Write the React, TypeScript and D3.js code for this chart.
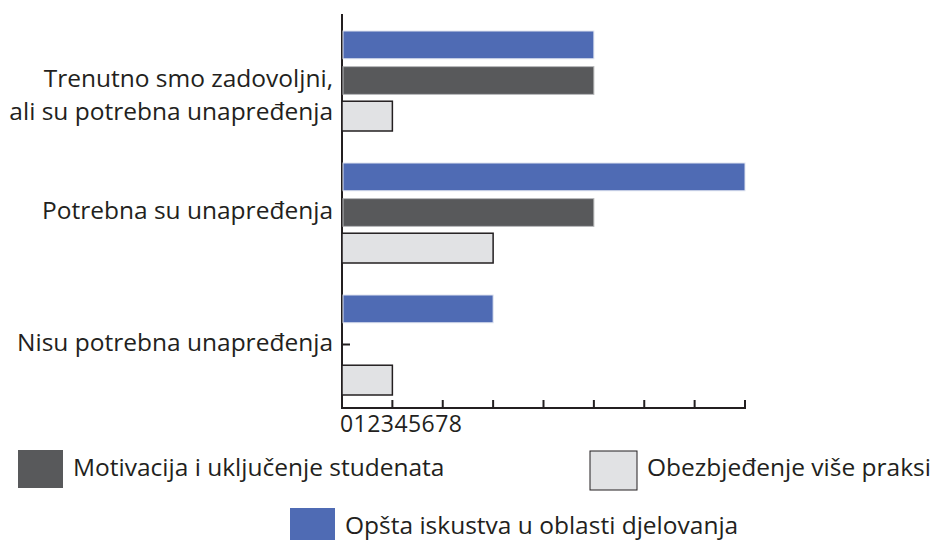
import React, { useEffect, useRef } from 'react';
import * as d3 from 'd3';

// kategorije (odozgo prema dolje) i serije
const categories = [
  ['Trenutno smo zadovoljni,', 'ali su potrebna unapređenja'],
  ['Potrebna su unapređenja'],
  ['Nisu potrebna unapređenja'],
];
const seriesNames = [
  'Opšta iskustva u oblasti djelovanja',
  'Motivacija i uključenje studenata',
  'Obezbjeđenje više praksi',
];
const opstaValues = [5, 8, 3];
const motivacijaValues = [5, 5, 0];
const prakseValues = [1, 3, 1];
const tickValues = [0, 1, 2, 3, 4, 5, 6, 7, 8];

const colors = ['#4f6bb4', '#58595b', '#e1e2e4'];
const strokes = ['#dfe4f0', '#b8b9bb', '#231f20'];

const App = () => {
  const ref = useRef<SVGSVGElement>(null);

  useEffect(() => {
    const svg = d3.select(ref.current);
    svg.selectAll('*').remove();
    const font = '"Open Sans", sans-serif';

    const x = d3.scaleLinear().domain([0, 8]).range([342, 745]);
    const y0 = d3.scaleBand<number>().domain([0, 1, 2]).range([14, 410]);
    const y1 = d3.scaleBand<number>().domain([0, 1, 2]).range([17, 116]).paddingInner(0.22);

    const values = [opstaValues, motivacijaValues, prakseValues];

    // osa Y
    svg.append('line')
      .attr('x1', x(0)).attr('x2', x(0))
      .attr('y1', 14).attr('y2', 409)
      .attr('stroke', '#231f20').attr('stroke-width', 2);

    // osa X
    svg.append('line')
      .attr('x1', x(0) - 1).attr('x2', x(8) + 1)
      .attr('y1', 408).attr('y2', 408)
      .attr('stroke', '#231f20').attr('stroke-width', 2);
    svg.append('g').selectAll('line')
      .data(tickValues)
      .enter().append('line')
      .attr('x1', d => x(d)).attr('x2', d => x(d))
      .attr('y1', 400).attr('y2', 408)
      .attr('stroke', '#231f20').attr('stroke-width', 2);

    // oznake (zbijene jedna uz drugu kao u originalu)
    svg.append('g').selectAll('text')
      .data(tickValues)
      .enter().append('text')
      .attr('x', (d, i) => x(0) - 2 + i * 13.6)
      .attr('y', 432)
      .attr('font-family', font).attr('font-size', 23)
      .attr('fill', '#231f20')
      .text(d => d);

    // stupci
    categories.forEach((cat, ci) => {
      values.forEach((vals, si) => {
        const v = vals[ci];
        const yy = (y0(ci) as number) + (y1(si) as number);
        if (v === 0) {
          svg.append('line')
            .attr('x1', x(0)).attr('x2', x(0) + 8)
            .attr('y1', yy + y1.bandwidth() / 2).attr('y2', yy + y1.bandwidth() / 2)
            .attr('stroke', '#231f20').attr('stroke-width', 2);
          return;
        }
        const dark = si === 2;
        svg.append('rect')
          .attr('x', x(0) + (dark ? 0 : 1))
          .attr('y', yy - (dark ? 1 : 0))
          .attr('width', x(v) - x(0) - (dark ? 0 : 1))
          .attr('height', y1.bandwidth() + (dark ? 2 : 0))
          .attr('fill', colors[si])
          .attr('stroke', strokes[si])
          .attr('stroke-width', dark ? 1.5 : 1);
      });

      // naziv kategorije
      const center = (y0(ci) as number) + y0.bandwidth() / 2;
      const t = svg.append('text')
        .attr('text-anchor', 'end')
        .attr('font-family', font).attr('font-size', 24.5)
        .attr('fill', '#231f20');
      if (cat.length === 2) {
        cat.forEach((line, li) => {
          t.append('tspan').attr('x', 333).attr('y', center + 7 + li * 33).text(line);
        });
      } else {
        t.attr('x', 333).attr('y', center + 7).text(cat[0]);
      }
    });

    // legenda
    const legend = [
      { si: 1, x: 18, y: 450, w: 45, h: 38, tx: 73, ty: 476 },
      { si: 2, x: 590, y: 451, w: 47, h: 39, tx: 647, ty: 476 },
      { si: 0, x: 290, y: 508, w: 45, h: 34, tx: 345, ty: 534 },
    ];
    legend.forEach(l => {
      svg.append('rect')
        .attr('x', l.x).attr('y', l.y)
        .attr('width', l.w).attr('height', l.h)
        .attr('fill', colors[l.si])
        .attr('stroke', l.si === 2 ? '#231f20' : 'none')
        .attr('stroke-width', 1);
      svg.append('text')
        .attr('x', l.tx).attr('y', l.ty)
        .attr('font-family', font).attr('font-size', 24.5)
        .attr('fill', '#231f20')
        .text(seriesNames[l.si]);
    });
  }, []);

  return (
    <svg ref={ref} width={936} height={540}
      style={{ position: 'absolute', left: 0, top: 0, background: '#fff' }} />
  );
};

export default App;
